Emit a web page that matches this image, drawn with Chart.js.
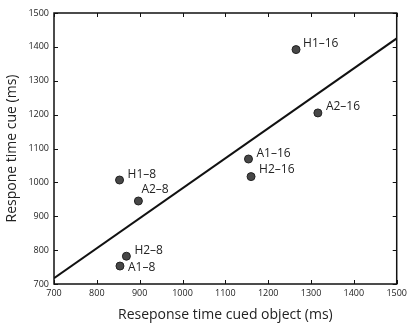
<!DOCTYPE html>
<html><head><meta charset="utf-8">
<script src="https://cdn.jsdelivr.net/npm/chart.js@4"></script>
<style>html,body{margin:0;padding:0;background:#fff}#wrap{width:411px;height:326px}</style>
</head><body><div id="wrap"><canvas id="c" width="411" height="326"></canvas></div>
<script>
const pointLabels = ["H1–16","A2–16","A1–16","H2–16","H1–8","A2–8","H2–8","A1–8"];
const cuedObject = [1265,1316,1154,1160,853,897,869,854];
const cue = [1392,1205,1069,1017,1007,945,782,753];
const fitX = [700,1500];
const fitY = [717,1425];
const xTicks = [700,800,900,1000,1100,1200,1300,1400,1500];
const yTicks = [700,800,900,1000,1100,1200,1300,1400,1500];

const FONT = "'Open Sans', sans-serif";
// label placement (style): pixel offsets from each point
const labelOffsets = [[7,-6],[8,-6],[8,-5],[8,-7],[8,-5],[3,-11],[8,-6],[8,2]];

const decor = {
  id:'decor',
  afterDatasetsDraw(chart){
    const ctx = chart.ctx, a = chart.chartArea, xs = chart.scales.x, ys = chart.scales.y;
    ctx.save();
    const meta = chart.getDatasetMeta(0);
    ctx.fillStyle = '#222';
    ctx.font = "12px " + FONT;
    ctx.textBaseline = 'middle';
    ctx.textAlign = 'left';
    meta.data.forEach((el,i)=>{ const o = labelOffsets[i]; ctx.fillText(pointLabels[i], el.x+o[0], el.y+o[1]); });
    ctx.strokeStyle = '#111';
    ctx.lineWidth = 1.5;
    ctx.strokeRect(a.left, a.top, a.right-a.left, a.bottom-a.top);
    ctx.lineWidth = 1;
    const L = 4;
    xTicks.forEach(v=>{ const p = Math.round(xs.getPixelForValue(v))+0.5;
      ctx.beginPath(); ctx.moveTo(p,a.bottom); ctx.lineTo(p,a.bottom-L); ctx.moveTo(p,a.top); ctx.lineTo(p,a.top+L); ctx.stroke(); });
    yTicks.forEach(v=>{ const p = Math.round(ys.getPixelForValue(v))+0.5;
      ctx.beginPath(); ctx.moveTo(a.left,p); ctx.lineTo(a.left+L,p); ctx.moveTo(a.right,p); ctx.lineTo(a.right-L,p); ctx.stroke(); });
    ctx.restore();
  }
};

new Chart(document.getElementById('c'), {
  type:'scatter',
  data:{ datasets:[
    { data: cuedObject.map((x,i)=>({x, y:cue[i]})), backgroundColor:'#474747', borderColor:'#222', borderWidth:1, pointRadius:4 },
    { type:'line', data: fitX.map((x,i)=>({x, y:fitY[i]})), borderColor:'#111', borderWidth:2, pointRadius:0, fill:false }
  ]},
  options:{
    responsive:false, animation:false, devicePixelRatio:1,
    layout:{ padding:{ top:13, right:12, left:0, bottom:0 } },
    plugins:{ legend:{display:false}, tooltip:{enabled:false} },
    scales:{
      x:{ type:'linear', min:700, max:1500, afterBuildTicks(s){ s.ticks = xTicks.map(v=>({value:v})); },
        afterFit(s){ s.height = 42; },
        grid:{ display:false, drawTicks:false }, border:{display:false},
        ticks:{ font:{ size:9, family:FONT }, color:'#222', padding:4, maxRotation:0, autoSkip:false, callback:v=>String(v) },
        title:{ display:true, text:'Reseponse time cued object (ms)', font:{ size:14, family:FONT }, color:'#222', padding:{top:2,bottom:3} } },
      y:{ type:'linear', min:700, max:1500, afterBuildTicks(s){ s.ticks = yTicks.map(v=>({value:v})); },
        afterFit(s){ s.width = 54; },
        grid:{ display:false, drawTicks:false }, border:{display:false},
        ticks:{ font:{ size:9, family:FONT }, color:'#222', padding:5, autoSkip:false, callback:v=>String(v) },
        title:{ display:true, text:'Respone time cue (ms)', font:{ size:14, family:FONT }, color:'#222', padding:{top:4,bottom:2} } }
    }
  },
  plugins:[decor]
});
</script></body></html>
